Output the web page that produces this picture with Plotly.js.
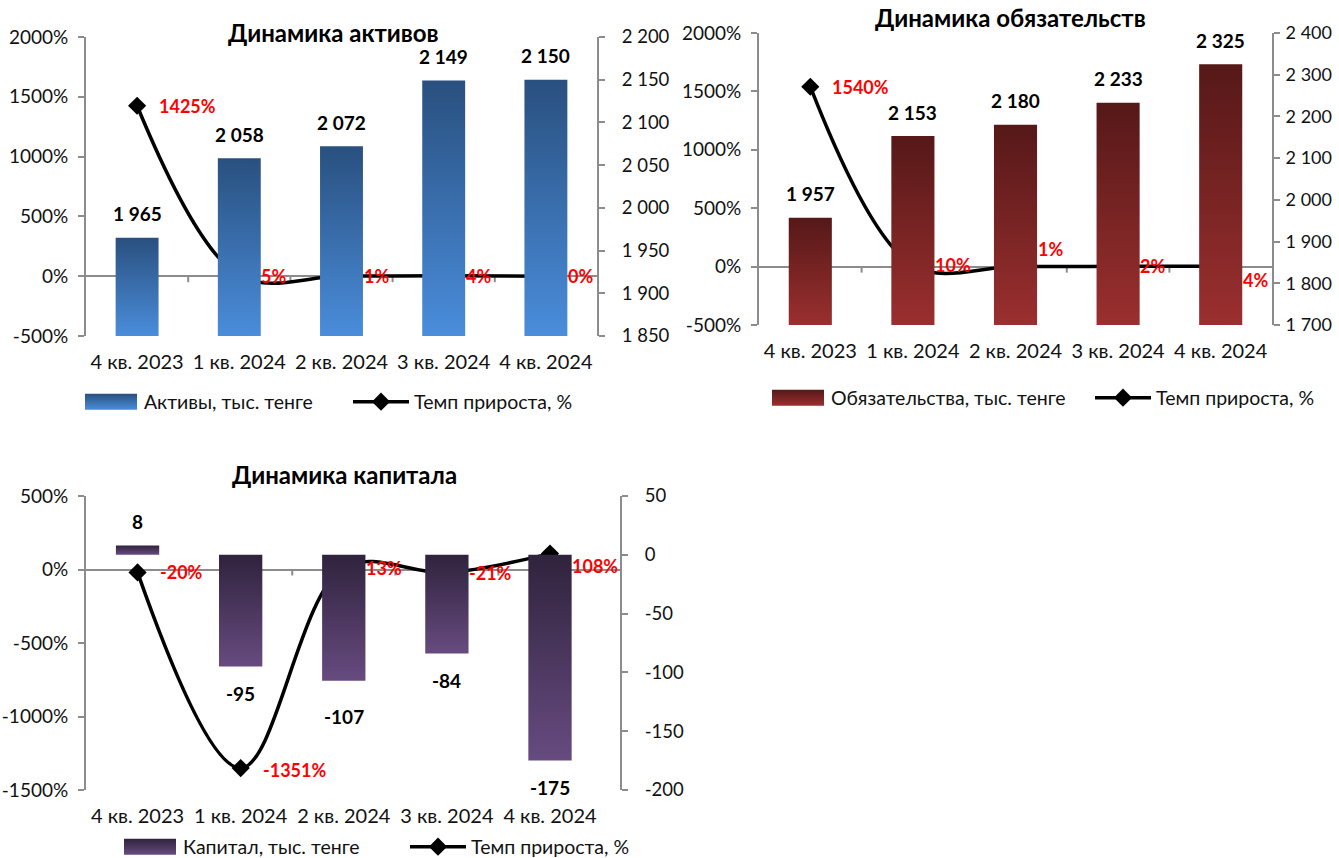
<!DOCTYPE html>
<html>
<head>
<meta charset="utf-8">
<script src="https://cdn.plot.ly/plotly-3.0.1.min.js"></script>
<style>
  html, body { margin: 0; padding: 0; background: #fff; }
  #chart { width: 1339px; height: 858px; }
</style>
</head>
<body>
<div id="chart"></div>
<script>
// ---------- DATA ----------
const quarters = ['4 кв. 2023', '1 кв. 2024', '2 кв. 2024', '3 кв. 2024', '4 кв. 2024'];

const assets = [1965, 2058, 2072, 2149, 2150];
const assetsGrowth = [1425, 5, 1, 4, 0];

const liabilities = [1957, 2153, 2180, 2233, 2325];
const liabilitiesGrowth = [1540, 10, 1, 2, 4];

const capital = [8, -95, -107, -84, -175];
const capitalGrowth = [-20, -1351, 13, -21, 108];

const pctTicks1 = [-500, 0, 500, 1000, 1500, 2000];
const valTicks1 = [1850, 1900, 1950, 2000, 2050, 2100, 2150, 2200];
const pctTicks2 = [-500, 0, 500, 1000, 1500, 2000];
const valTicks2 = [1700, 1800, 1900, 2000, 2100, 2200, 2300, 2400];
const pctTicks3 = [-1500, -1000, -500, 0, 500];
const valTicks3 = [-200, -150, -100, -50, 0, 50];

const legendBars1 = 'Активы, тыс. тенге';
const legendBars2 = 'Обязательства, тыс. тенге';
const legendBars3 = 'Капитал, тыс. тенге';
const legendLine = 'Темп прироста, %';
const titles = ['Динамика активов', 'Динамика обязательств', 'Динамика капитала'];

// ---------- STYLE ----------
const FONT = 'Lato, "Open Sans", sans-serif';
const W = 1339, H = 858;
const px = v => v / W;
const py = v => 1 - v / H;
const fmt = n => (n < 0 ? '-' : '') + String(Math.abs(n)).replace(/\B(?=(\d{3})+(?!\d))/g, ' ');
const pct = n => (n < 0 ? '-' : '') + Math.abs(n) + '%';

const colA = 'rgb(58, 110, 176)';
const colL = 'rgb(122, 34, 34)';
const colC = 'rgb(74, 56, 98)';
const AXIS = '#8c8c8c';

// label offsets (pixels)
const growthShift1 = [0, 0, 0, 0, 0];
const growthShift2 = [0, 0, 17, 0, -14];
const growthShift3 = [0, -2, 0, 0, -12];
const barShift1 = [24, 24, 24, 24, 24];
const barShift2 = [24, 24, 24, 24, 24];
const barShift3 = [24, -27, -36, -27, -27];

const LEFTFONT = { family: FONT, size: 19, color: '#111' };
const RIGHTFONT = { family: FONT, size: 18.5, color: '#111' };
const RIGHTFONT2 = { family: FONT, size: 18, color: '#111' };
const CATFONT = { family: FONT, size: 20, color: '#111' };

function yAxisLeft(domain, range, ticks, anchor) {
  return {
    domain: domain, range: range, anchor: anchor,
    tickvals: ticks, ticktext: ticks.map(pct),
    showgrid: false, zeroline: true, zerolinecolor: AXIS, zerolinewidth: 2,
    showline: true, linecolor: AXIS, linewidth: 2,
    ticks: 'outside', ticklen: 6, tickwidth: 2, tickcolor: AXIS,
    ticklabelstandoff: 6, automargin: false,
    tickfont: LEFTFONT, fixedrange: true
  };
}
function yAxisRight(overlay, range, ticks, anchor, standoff, font) {
  return {
    overlaying: overlay, side: 'right', range: range, anchor: anchor,
    tickvals: ticks, ticktext: ticks.map(fmt),
    showgrid: false, zeroline: false,
    showline: true, linecolor: AXIS, linewidth: 2,
    ticks: 'outside', ticklen: 6, tickwidth: 2, tickcolor: AXIS,
    ticklabelstandoff: standoff, automargin: false,
    tickfont: font, fixedrange: true
  };
}
function xAxis(domain, anchor) {
  return {
    domain: domain, anchor: anchor, type: 'category',
    showgrid: false, zeroline: false, showline: false, ticks: '',
    ticklabelstandoff: 12, tickangle: 0, automargin: false,
    tickfont: CATFONT, fixedrange: true
  };
}

function barTrace(y, base, xa, ya, name, color, legend) {
  return {
    type: 'bar', x: quarters, y: y, base: base, xaxis: xa, yaxis: ya, name: name,
    marker: { color: color, line: { width: 0 } }, width: 0.42,
    legend: legend, hoverinfo: 'skip'
  };
}
function lineTrace(y, xa, ya, legend) {
  return {
    type: 'scatter', mode: 'lines+markers', x: quarters, y: y, xaxis: xa, yaxis: ya,
    name: legendLine, legend: legend,
    line: { color: '#000', width: 3.5, shape: 'spline', smoothing: 1 },
    marker: { symbol: 'diamond', size: 14, color: '#000' },
    hoverinfo: 'skip'
  };
}

// bars of the first two charts start at the bottom of their value axis
const assetsBase = 1850;
const liabilitiesBase = 1700;

const traces = [
  barTrace(assets.map(v => v - assetsBase), assetsBase, 'x', 'y2', legendBars1, colA, 'legend'),
  lineTrace(assetsGrowth, 'x', 'y', 'legend2'),
  barTrace(liabilities.map(v => v - liabilitiesBase), liabilitiesBase, 'x2', 'y4', legendBars2, colL, 'legend3'),
  lineTrace(liabilitiesGrowth, 'x2', 'y3', 'legend4'),
  barTrace(capital, 0, 'x3', 'y6', legendBars3, colC, 'legend5'),
  lineTrace(capitalGrowth, 'x3', 'y5', 'legend6')
];

const annotations = [];
function addBarLabels(vals, xref, yref, shifts) {
  vals.forEach((v, i) => annotations.push({
    x: quarters[i], y: v, xref: xref, yref: yref, text: fmt(v), showarrow: false,
    yshift: shifts[i], yanchor: 'middle',
    font: { family: FONT, size: 19, color: '#000', weight: 'bold' }
  }));
}
function addGrowthLabels(vals, xref, yref, shifts) {
  vals.forEach((v, i) => annotations.push({
    x: quarters[i], y: v, xref: xref, yref: yref, text: pct(v), showarrow: false,
    xanchor: 'left', xshift: 20, yshift: shifts[i], yanchor: 'middle',
    font: { family: FONT, size: 18, color: '#ff0000', weight: 'bold' }
  }));
}
addBarLabels(assets, 'x', 'y2', barShift1);
addGrowthLabels(assetsGrowth, 'x', 'y', growthShift1);
addBarLabels(liabilities, 'x2', 'y4', barShift2);
addGrowthLabels(liabilitiesGrowth, 'x2', 'y3', growthShift2);
addBarLabels(capital, 'x3', 'y6', barShift3);
addGrowthLabels(capitalGrowth, 'x3', 'y5', growthShift3);

const titlePos = [[333, 33], [1011, 18], [344, 475]];
titles.forEach((t, i) => annotations.push({
  text: t, xref: 'paper', yref: 'paper', x: px(titlePos[i][0]), y: py(titlePos[i][1]),
  xanchor: 'center', yanchor: 'middle', showarrow: false,
  font: { family: FONT, size: 24, color: '#000', weight: 'bold' }
}));

// small tick marks on the zero line between categories
const shapes = [];
[['x', 'y'], ['x2', 'y3'], ['x3', 'y5']].forEach(([xr, yr]) => {
  for (let i = 0; i < quarters.length - 1; i++) {
    shapes.push({
      type: 'line', xref: xr, yref: yr, x0: i + 0.5, x1: i + 0.5,
      ysizemode: 'pixel', yanchor: 0, y0: 0, y1: -6,
      line: { color: AXIS, width: 2 }, layer: 'below'
    });
  }
});

function legendBox(x, y) {
  return {
    x: px(x), y: py(y), xanchor: 'left', yanchor: 'middle', orientation: 'h',
    itemwidth: 56, bgcolor: 'rgba(0,0,0,0)',
    font: { family: FONT, size: 19.5, color: '#111' }
  };
}

const layout = {
  width: W, height: H,
  margin: { l: 0, r: 0, t: 0, b: 0, autoexpand: false },
  paper_bgcolor: '#fff', plot_bgcolor: 'rgba(0,0,0,0)',
  showlegend: true, barmode: 'overlay',
  xaxis: xAxis([px(86), px(597)], 'y'),
  yaxis: yAxisLeft([py(336), py(37)], [-500, 2000], pctTicks1, 'x'),
  yaxis2: yAxisRight('y', [1850, 2200], valTicks1, 'x', 13, RIGHTFONT),
  xaxis2: xAxis([px(759), px(1272)], 'y3'),
  yaxis3: yAxisLeft([py(325), py(33)], [-500, 2000], pctTicks2, 'x2'),
  yaxis4: yAxisRight('y3', [1700, 2400], valTicks2, 'x2', 2, RIGHTFONT2),
  xaxis3: xAxis([px(86), px(620)], 'y5'),
  yaxis5: yAxisLeft([py(790), py(496)], [-1500, 500], pctTicks3, 'x3'),
  yaxis6: yAxisRight('y5', [-200, 50], valTicks3, 'x3', 13, RIGHTFONT),
  legend: legendBox(78, 402),
  legend2: legendBox(348, 402),
  legend3: legendBox(765, 398),
  legend4: legendBox(1090, 398),
  legend5: legendBox(117, 847),
  legend6: legendBox(405, 847),
  shapes: shapes,
  annotations: annotations
};

const gradients = [
  { id: 'gA', match: colA, top: '#29507f', bottom: '#4a8ddb' },
  { id: 'gL', match: colL, top: '#561818', bottom: '#9b2f2f' },
  { id: 'gC', match: colC, top: '#30233d', bottom: '#674b80' }
];

function applyGradients(gd) {
  const svg = gd.querySelector('svg.main-svg');
  let defs = svg.querySelector('defs');
  const NS = 'http://www.w3.org/2000/svg';
  if (!defs) { defs = document.createElementNS(NS, 'defs'); svg.insertBefore(defs, svg.firstChild); }
  gradients.forEach(g => {
    const lg = document.createElementNS(NS, 'linearGradient');
    lg.setAttribute('id', g.id);
    lg.setAttribute('x1', '0'); lg.setAttribute('y1', '0');
    lg.setAttribute('x2', '0'); lg.setAttribute('y2', '1');
    [[0, g.top], [1, g.bottom]].forEach(s => {
      const st = document.createElementNS(NS, 'stop');
      st.setAttribute('offset', s[0]);
      st.setAttribute('stop-color', s[1]);
      lg.appendChild(st);
    });
    defs.appendChild(lg);
  });
  gd.querySelectorAll('path').forEach(p => {
    const f = p.style.fill;
    gradients.forEach(g => {
      if (f === g.match) {
        p.style.fill = 'url(#' + g.id + ')';
        if (p.closest('.legendpoints')) {
          p.setAttribute('d', 'M-26,8H26V-8H-26Z');
        }
      }
    });
  });
}

const gd = document.getElementById('chart');
Plotly.newPlot(gd, traces, layout, { displayModeBar: false, staticPlot: true })
  .then(() => applyGradients(gd));
</script>
</body>
</html>
